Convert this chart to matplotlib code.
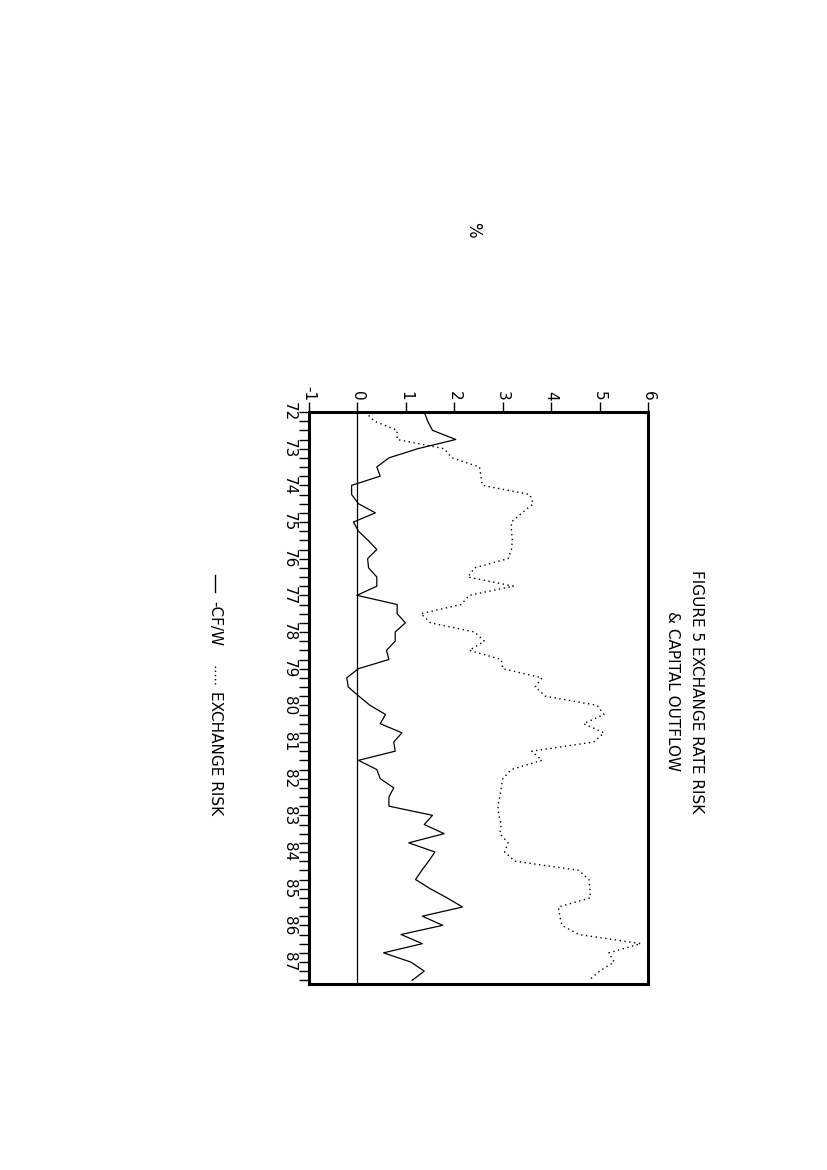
import matplotlib
matplotlib.use("Agg")
import matplotlib.pyplot as plt
import numpy as np

# Quarterly observations, 1972Q1 .. 1987Q3
quarters = list(range(63))
year_labels = ["72", "73", "74", "75", "76", "77", "78", "79",
               "80", "81", "82", "83", "84", "85", "86", "87"]
value_ticks = [-1, 0, 1, 2, 3, 4, 5, 6]

cf_w = [1.38, 1.45, 1.55, 2.03, 1.25, 0.65, 0.40, 0.47, -0.12, -0.12,
        0.02, 0.37, -0.08, 0.02, 0.22, 0.40, 0.21, 0.23, 0.40, 0.40,
        -0.01, 0.82, 0.82, 0.99, 0.78, 0.78, 0.60, 0.65, 0.02, -0.22,
        -0.19, 0.03, 0.26, 0.58, 0.47, 0.92, 0.75, 0.78, 0.02, 0.40,
        0.47, 0.75, 0.65, 0.65, 1.55, 1.38, 1.79, 1.06, 1.60, 1.47,
        1.33, 1.20, 1.50, 1.85, 2.17, 1.34, 1.76, 0.90, 1.34, 0.54,
        1.10, 1.38, 1.13]

exchange_risk = [0.16, 0.35, 0.82, 0.82, 1.79, 1.95, 2.52, 2.55, 2.58, 3.56,
                 3.63, 3.40, 3.18, 3.18, 3.20, 3.18, 3.11, 2.42, 2.28, 3.22,
                 2.31, 2.14, 1.31, 1.51, 2.42, 2.62, 2.31, 2.97, 3.00, 3.81,
                 3.67, 3.88, 4.95, 5.09, 4.67, 5.09, 4.88, 3.60, 3.81, 3.18,
                 3.00, 2.97, 2.94, 2.90, 2.92, 2.97, 2.94, 3.11, 3.04, 3.25,
                 4.57, 4.78, 4.80, 4.81, 4.15, 4.18, 4.22, 4.57, 5.85, 5.19,
                 5.30, 5.00, 4.78]

W, H = 827, 1170
fig = plt.figure(figsize=(W / 100, H / 100), dpi=100)
fig.patch.set_facecolor("white")

left, right, top, bottom = 309, 648, 412, 984
ax = fig.add_axes([left / W, 1 - bottom / H, (right - left) / W, (bottom - top) / H])

ax.plot(cf_w, quarters, color="black", lw=0.9)
ax.plot(exchange_risk, quarters, color="black", lw=1.0, ls=(0, (1, 2.5)))
ax.axvline(0, color="black", lw=0.9)

ax.set_xlim(-1, 6)
ax.set_ylim(62.4, 0)

for s in ax.spines.values():
    s.set_linewidth(2.2)

ax.xaxis.tick_top()
ax.set_xticks(value_ticks)
ax.set_xticklabels([str(v) for v in value_ticks], rotation=-90, fontsize=11)
ax.tick_params(axis="x", direction="out", length=7, width=1, pad=1)

ax.set_yticks(list(range(0, 64, 4)))
ax.set_yticklabels(year_labels, rotation=-90, fontsize=11, va="center")
ax.set_yticks(quarters, minor=True)
ax.tick_params(axis="y", which="both", direction="out", length=7, width=1, pad=2)

rot = -90
fig.text(697 / W, 1 - 692 / H, "FIGURE 5 EXCHANGE RATE RISK", rotation=rot,
         ha="center", va="center", fontsize=11)
fig.text(673 / W, 1 - 691 / H, "& CAPITAL OUTFLOW", rotation=rot,
         ha="center", va="center", fontsize=11)
fig.text(473 / W, 1 - 230 / H, "%", rotation=rot, ha="center", va="center", fontsize=12)

# legend (text + line samples)
lx = 215 / W
fig.add_artist(plt.Line2D([lx, lx], [1 - 575 / H, 1 - 592 / H], color="black", lw=1,
                          transform=fig.transFigure))
fig.text(lx, 1 - 624 / H, "-CF/W", rotation=rot, ha="center", va="center", fontsize=11)
fig.add_artist(plt.Line2D([lx, lx], [1 - 666 / H, 1 - 684 / H], color="black", lw=1,
                          ls=(0, (1, 2)), transform=fig.transFigure))
fig.text(lx, 1 - 753 / H, "EXCHANGE RISK", rotation=rot, ha="center", va="center", fontsize=11)

fig.savefig("out.png", dpi=100)
